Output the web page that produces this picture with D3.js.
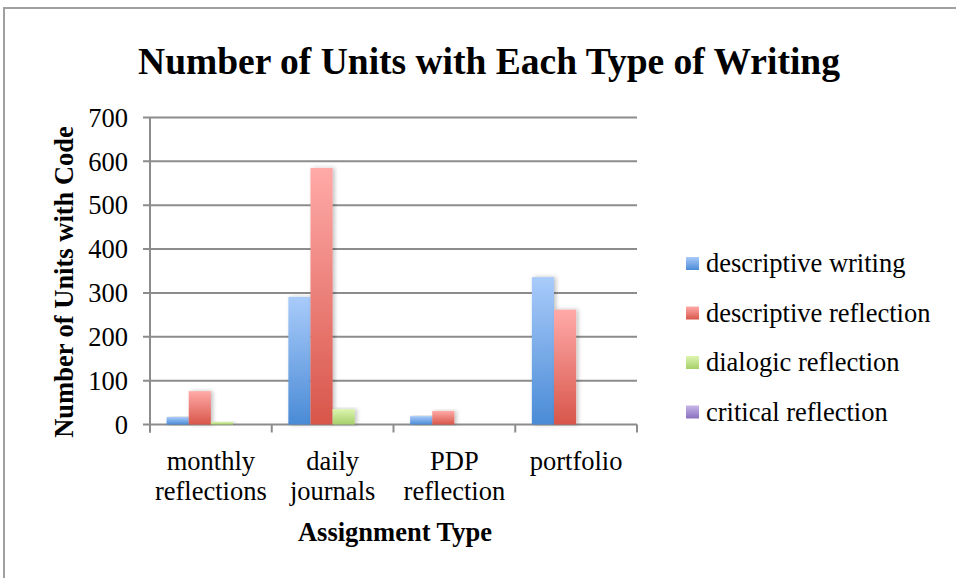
<!DOCTYPE html>
<html>
<head>
<meta charset="utf-8">
<script src="https://cdn.jsdelivr.net/npm/d3@7"></script>
<style>
  body { margin: 0; background: #fff; }
  text { font-family: "Liberation Serif", "Times New Roman", serif; fill: #000; }
</style>
</head>
<body>
<div id="chart"></div>
<script>
var categories = [["monthly", "reflections"], ["daily", "journals"], ["PDP", "reflection"], ["portfolio"]];
var seriesNames = ["descriptive writing", "descriptive reflection", "dialogic reflection", "critical reflection"];
var descriptiveWriting = [17, 291, 19, 336];
var descriptiveReflection = [76, 585, 31, 262];
var dialogicReflection = [6, 35, 0, 0];
var criticalReflection = [0, 0, 0, 0];
var yTicks = [0, 100, 200, 300, 400, 500, 600, 700];

var values = [descriptiveWriting, descriptiveReflection, dialogicReflection, criticalReflection];
var colors = [
  {top: "#a9cbfa", bottom: "#4a8bd6"},
  {top: "#ffaaa8", bottom: "#d8564a"},
  {top: "#ddf5b0", bottom: "#a6cf6a"},
  {top: "#c6b6e6", bottom: "#8a6fbf"}
];

var W = 956, H = 578;
var margin = {top: 117.5, left: 150, right: 319, bottom: 153.5};
var width = W - margin.left - margin.right,
    height = H - margin.top - margin.bottom;

var svg = d3.select("#chart").append("svg")
  .attr("width", W).attr("height", H);

var defs = svg.append("defs");
colors.forEach(function(c, i) {
  var g = defs.append("linearGradient").attr("id", "grad" + i)
    .attr("x1", 0).attr("y1", 0).attr("x2", 0).attr("y2", 1);
  g.append("stop").attr("offset", "0%").attr("stop-color", c.top);
  g.append("stop").attr("offset", "100%").attr("stop-color", c.bottom);
});
var shadow = defs.append("filter").attr("id", "shadow")
  .attr("x", "-30%").attr("y", "-10%").attr("width", "160%").attr("height", "120%");
shadow.append("feDropShadow").attr("dx", 2).attr("dy", 0).attr("stdDeviation", 2)
  .attr("flood-color", "#000").attr("flood-opacity", 0.25);

// outer frame
svg.append("rect")
  .attr("x", 4).attr("y", 8).attr("width", W + 10).attr("height", H + 10)
  .attr("fill", "none").attr("stroke", "#a0a0a0").attr("stroke-width", 2);

var g = svg.append("g").attr("transform", "translate(" + margin.left + "," + margin.top + ")");

var x0 = d3.scaleBand().domain(d3.range(categories.length)).range([0, width]).padding(0);
// gap width 150% of a bar
var x1 = d3.scaleBand().domain(d3.range(seriesNames.length))
  .range([0, x0.bandwidth()]).paddingInner(0).paddingOuter(0.75);
var y = d3.scaleLinear().domain([0, 700]).range([height, 0]);

// gridlines
g.selectAll(".grid").data(yTicks).enter().append("line")
  .attr("x1", -7).attr("x2", width)
  .attr("y1", function(d) { return y(d); })
  .attr("y2", function(d) { return y(d); })
  .attr("stroke", "#8c8c8c").attr("stroke-width", 2);

// y axis line
g.append("line").attr("x1", 0).attr("x2", 0).attr("y1", 0).attr("y2", height + 8)
  .attr("stroke", "#8c8c8c").attr("stroke-width", 2);

// category ticks
g.selectAll(".ctick").data(d3.range(categories.length + 1)).enter().append("line")
  .attr("x1", function(d) { return d * x0.bandwidth(); })
  .attr("x2", function(d) { return d * x0.bandwidth(); })
  .attr("y1", height).attr("y2", height + 8)
  .attr("stroke", "#8c8c8c").attr("stroke-width", 2);

// y tick labels
g.selectAll(".ylab").data(yTicks).enter().append("text")
  .attr("x", -22).attr("y", function(d) { return y(d); })
  .attr("dy", "0.35em").attr("text-anchor", "end")
  .style("font-size", "26.5px")
  .text(function(d) { return d; });

// bars
var groups = g.selectAll(".cat").data(categories).enter().append("g")
  .attr("transform", function(d, i) { return "translate(" + x0(i) + ",0)"; });
groups.selectAll("rect").data(function(d, i) {
    return values.map(function(v, s) { return {s: s, v: v[i]}; });
  }).enter().append("rect")
  .attr("x", function(d) { return x1(d.s); })
  .attr("y", function(d) { return y(d.v); })
  .attr("width", x1.bandwidth())
  .attr("height", function(d) { return height - y(d.v); })
  .attr("fill", function(d) { return "url(#grad" + d.s + ")"; })
  .attr("filter", function(d) { return d.v > 0 ? "url(#shadow)" : null; });

// category labels
groups.each(function(d) {
  var t = d3.select(this).append("text")
    .attr("text-anchor", "middle")
    .attr("x", x0.bandwidth() / 2)
    .attr("y", height + 45)
    .style("font-size", "26.5px");
  d.forEach(function(line, k) {
    t.append("tspan").attr("x", x0.bandwidth() / 2).attr("dy", k === 0 ? 0 : 30).text(line);
  });
});

// title
svg.append("text").attr("x", 489).attr("y", 74).attr("text-anchor", "middle")
  .style("font-size", "37.5px").style("font-weight", "bold")
  .text("Number of Units with Each Type of Writing");

// axis titles
svg.append("text").attr("x", 395).attr("y", 541).attr("text-anchor", "middle")
  .style("font-size", "26.5px").style("font-weight", "bold")
  .text("Assignment Type");
svg.append("text")
  .attr("transform", "translate(73,282) rotate(-90)")
  .attr("text-anchor", "middle")
  .style("font-size", "26.5px").style("font-weight", "bold")
  .text("Number of Units with Code");

// legend
var legend = svg.selectAll(".legend").data(seriesNames).enter().append("g")
  .attr("transform", function(d, i) { return "translate(686," + (263 + i * 49.5) + ")"; });
legend.append("rect").attr("x", 0).attr("y", -6).attr("width", 13).attr("height", 13)
  .attr("fill", function(d, i) { return "url(#grad" + i + ")"; });
legend.append("text").attr("x", 20).attr("y", 0).attr("dy", "0.35em")
  .style("font-size", "26.5px")
  .text(function(d) { return d; });
</script>
</body>
</html>
